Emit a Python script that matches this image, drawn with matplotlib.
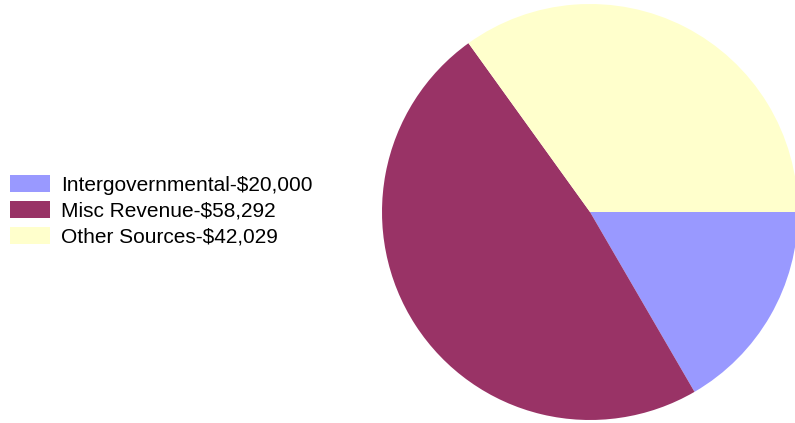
import matplotlib
matplotlib.use("Agg")
import matplotlib.pyplot as plt

# revenue sources
categories = ["Intergovernmental", "Misc Revenue", "Other Sources"]
amounts = [20000, 58292, 42029]
colors = ["#9999FF", "#993366", "#FFFFCC"]

labels = ["{}-${:,}".format(c, a) for c, a in zip(categories, amounts)]

plt.rcParams['font.family'] = ['Liberation Sans', 'DejaVu Sans']

fig = plt.figure(figsize=(7.95, 4.23), dpi=100)
fig.patch.set_facecolor("white")

# pie centred at roughly (590, 212) px with radius ~208 px
ax = fig.add_axes([382 / 795, 3 / 423, 416 / 795, 416 / 423])
wedges, _ = ax.pie(amounts, colors=colors, startangle=0, counterclock=False,
                   radius=1.0, wedgeprops=dict(linewidth=0))
ax.set_xlim(-1, 1)
ax.set_ylim(-1, 1)
ax.set_aspect("equal")
ax.axis("off")

fig.legend(wedges, labels, loc="center left",
           bbox_to_anchor=(10 / 795, (423 - 211) / 423),
           frameon=False, fontsize=15, handlelength=1.92, handleheight=0.87,
           handletextpad=0.53, labelspacing=0.3, borderpad=0, borderaxespad=0)

fig.savefig("out.png", dpi=100, facecolor="white")
